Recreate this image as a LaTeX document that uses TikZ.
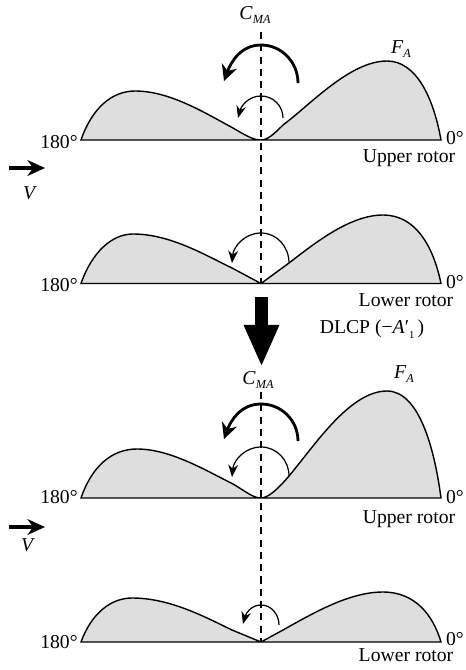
\documentclass[tikz,border=0pt]{standalone}
\usepackage{fontspec}
\setmainfont{Liberation Serif}
\usetikzlibrary{
	arrows.meta,
	positioning
}
\usepackage{xcolor}
\definecolor{bladegray}{RGB}{222,222,222}
\tikzset{
	lbl/.style={inner sep=0pt,font=\fontsize{11.2}{13}\selectfont},
	blade/.style={draw=black,fill=bladegray,line width=0.8pt},
	moment/.style={line width=0.7pt,-{Stealth[length=7pt,width=5.5pt]}},
	bigmoment/.style={line width=1.6pt,-{Stealth[length=9pt,width=9pt]}},
	windarrow/.style={line width=2pt,-{Stealth[length=10pt,width=9pt]}},
	fatarrow/.style={line width=7.4pt,-{Triangle[length=24pt,width=18.5pt]}},
	axisline/.style={dashed,dash pattern=on 4pt off 3pt,line width=0.6pt}
}
\newcommand{\subtxt}[1]{\raisebox{-2.5pt}{\fontsize{7}{8}\selectfont\textit{#1}}}

\begin{document}
\begin{tikzpicture}[x=0.02cm,y=-0.02cm]
		\useasboundingbox (0,0) rectangle (466,670);
		
		% upper rotor, before
		\draw[blade] (81,140) .. controls (92,108) and (112,91) .. (135,91)
		.. controls (170,91) and (205,113) .. (233,128)
		.. controls (245,135) and (253,140) .. (261,140)
		.. controls (268,140) and (275,133) .. (283,125)
		.. controls (310,105) and (350,61) .. (387,61)
		.. controls (415,61) and (433,95) .. (441,140) -- cycle;
		
		% lower rotor, before
		\draw[blade] (81,283.5) .. controls (92,252) and (112,234) .. (133,234)
		.. controls (170,234) and (205,255) .. (232,268)
		-- (261,283.5) -- (289,263)
		.. controls (315,243) and (350,215) .. (383,215)
		.. controls (415,215) and (433,245) .. (441,283.5) -- cycle;
		
		% upper rotor, after
		\draw[blade] (81,498) .. controls (92,466) and (112,449) .. (137,449)
		.. controls (170,449) and (205,470) .. (233,484)
		.. controls (245,491) and (253,498) .. (261,498)
		.. controls (268,498) and (278,489) .. (289,476)
		.. controls (315,445) and (350,391) .. (387,391)
		.. controls (418,391) and (434,445) .. (441,498) -- cycle;
		
		% lower rotor, after
		\draw[blade] (81,642) .. controls (92,612) and (112,598) .. (132,598)
		.. controls (170,598) and (205,617) .. (232,630)
		-- (261,642) -- (283,630)
		.. controls (315,612) and (350,592) .. (383,592)
		.. controls (415,592) and (433,615) .. (441,642) -- cycle;
		
		% rotor labels
		\foreach \n/\y in {a/142,b/285,c/497,d/642}
		\node[lbl] (deg180\n) at (59,\y) {180°};
		\foreach \n/\y in {a/138,b/282,c/497,d/639}
		\node[lbl] (deg0\n) at (455,\y) {0°};
		\node[lbl] (uppera) at (409,158) {Upper rotor};
		\node[lbl] (lowera) at (406,300) {Lower rotor};
		\node[lbl] (upperb) at (409,519) {Upper rotor};
		\node[lbl] (lowerb) at (406,655) {Lower rotor};
		
		% force and moment labels
		\node[lbl] (cmaa) at (255,15) {\textit{C}\subtxt{MA}};
		\node[lbl] (cmab) at (258,380) {\textit{C}\subtxt{MA}};
		\node[lbl] (faa) at (401,49) {\textit{F}\subtxt{A}};
		\node[lbl] (fab) at (404,374) {\textit{F}\subtxt{A}};
		\node[lbl] (dlcp) at (372,329) {DLCP (−\textit{A}′\raisebox{-3pt}{\fontsize{6}{7}\selectfont 1}\,)};
		
		% rotor axis
		\coordinate (axisa) at (261,32);
		\coordinate (axisb) at (261,283.5);
		\coordinate (axisc) at (261,392);
		\coordinate (axisd) at (261,642);
		\draw[axisline] (axisa) -- (axisb);
		\draw[axisline] (axisc) -- (axisd);
		
		% moments, before
		\coordinate (biga1) at (298,83);
		\coordinate (biga2) at (261,45);
		\coordinate (biga3) at (224,81);
		\draw[bigmoment] (biga1) to[out=90,in=0] (biga2) to[out=180,in=70] (biga3);
		\coordinate (sma1) at (283,118);
		\coordinate (sma2) at (261,96);
		\coordinate (sma3) at (238,118);
		\draw[moment] (sma1) to[out=90,in=0] (sma2) to[out=180,in=75] (sma3);
		\coordinate (smb1) at (289,263);
		\coordinate (smb2) at (261,233);
		\coordinate (smb3) at (232,263);
		\draw[moment] (smb1) to[out=90,in=0] (smb2) to[out=180,in=85] (smb3);
		
		% moments, after
		\coordinate (bigc1) at (298,441);
		\coordinate (bigc2) at (261,404);
		\coordinate (bigc3) at (224,439);
		\draw[bigmoment] (bigc1) to[out=90,in=0] (bigc2) to[out=180,in=70] (bigc3);
		\coordinate (smc1) at (289,476);
		\coordinate (smc2) at (261,447);
		\coordinate (smc3) at (232,477);
		\draw[moment] (smc1) to[out=90,in=0] (smc2) to[out=180,in=85] (smc3);
		\coordinate (smd1) at (279,625);
		\coordinate (smd2) at (261,605);
		\coordinate (smd3) at (243,624);
		\draw[moment] (smd1) to[out=90,in=0] (smd2) to[out=180,in=75] (smd3);
		
		% wind
		\coordinate (winda1) at (9,168);
		\coordinate (winda2) at (45,168);
		\draw[windarrow] (winda1) -- (winda2);
		\node[lbl] (va) at (30,193) {\textit{V}};
		\coordinate (windb1) at (9,527);
		\coordinate (windb2) at (45,527);
		\draw[windarrow] (windb1) -- (windb2);
		\node[lbl] (vb) at (28,545) {\textit{V}};
		
		% collective pitch step
		\coordinate (dlcpa) at (261.5,297);
		\coordinate (dlcpb) at (261.5,367);
		\draw[fatarrow] (dlcpa) -- (dlcpb);
		
	\end{tikzpicture}
\end{document}
